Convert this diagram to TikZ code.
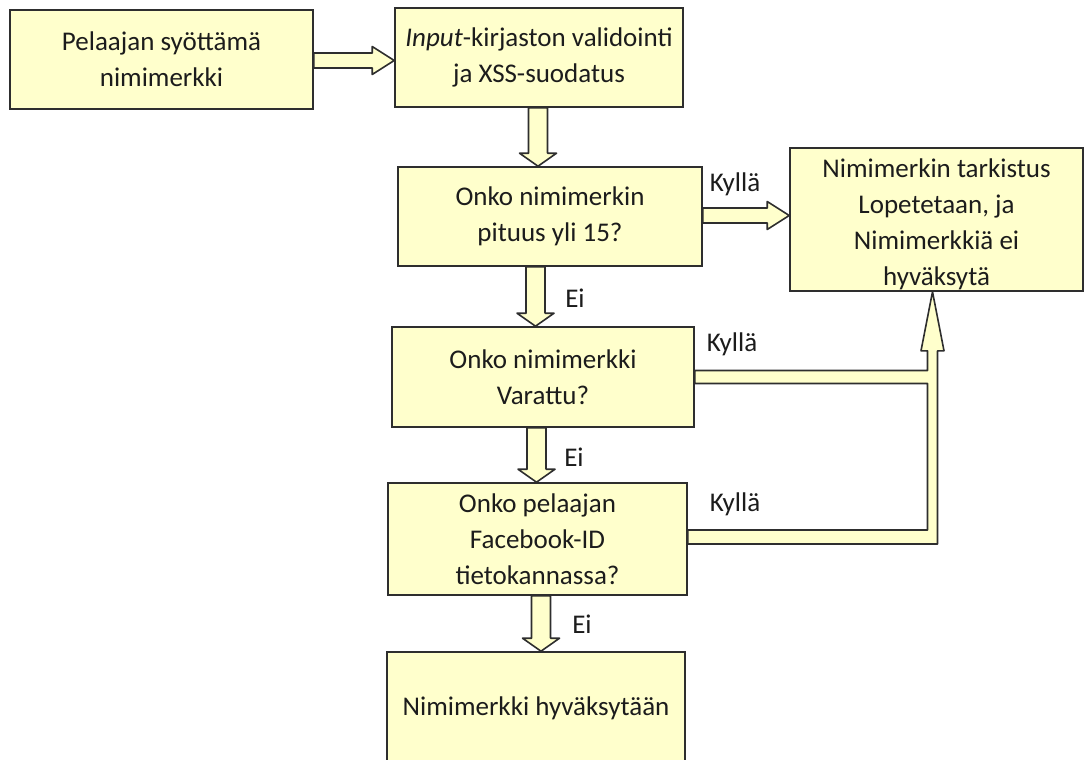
\documentclass[tikz,border=0pt]{standalone}
\usepackage{fontspec}
\setmainfont{Carlito}
\usepackage{xcolor}
\usepackage{tikz}
\usetikzlibrary{calc}

\definecolor{boxfill}{HTML}{FFFFCC}
\definecolor{boxline}{HTML}{2E2E2E}
\definecolor{textcol}{HTML}{1C1C1C}

\tikzset{
  box/.style={draw=boxline, fill=boxfill, line width=1.6pt, inner sep=0pt,
    align=center, text=textcol, font=\fontsize{27}{36}\selectfont},
  blockarrow/.style={draw=boxline, fill=boxfill, line width=1.6pt, line join=round},
  answer/.style={text=textcol, font=\fontsize{27}{36}\selectfont, inner sep=0pt}
}

\newcommand{\arrowdown}[3]{%
  \draw[blockarrow] let \p1=(#3,0), \p2=(#1.south), \p3=(#2.north) in
    (\x1-9.5pt,\y2) -- (\x1-9.5pt,\y3+13pt) -- (\x1-18.5pt,\y3+13pt) -- (\x1,\y3)
    -- (\x1+18.5pt,\y3+13pt) -- (\x1+9.5pt,\y3+13pt) -- (\x1+9.5pt,\y2) -- cycle;}

\newcommand{\arrowright}[3]{%
  \draw[blockarrow] let \p1=(0,#3), \p2=(#1.east), \p3=(#2.west) in
    (\x2,\y1+7.5pt) -- (\x3-22pt,\y1+7.5pt) -- (\x3-22pt,\y1+14pt) -- (\x3,\y1)
    -- (\x3-22pt,\y1-14pt) -- (\x3-22pt,\y1-7.5pt) -- (\x2,\y1-7.5pt) -- cycle;}

\begin{document}
\begin{tikzpicture}[x=1pt, y=-1pt]
\clip (0,0) rectangle (1090,760);
\fill[white] (0,0) rectangle (1090,760);

\node[box, minimum width=303pt, minimum height=99pt] (b1) at (161.5, 59.5) {Pelaajan syöttämä\\nimimerkki};
\node[box, minimum width=288pt, minimum height=99pt] (b2) at (539, 57.5) {\textit{Input}-kirjaston validointi\\ja XSS-suodatus};
\node[box, minimum width=304pt, minimum height=99pt] (b3) at (550, 216.5) {Onko nimimerkin\\pituus yli 15?};
\node[box, minimum width=293pt, minimum height=143pt] (r) at (936.5, 219.5) {\rule{0pt}{29pt}Nimimerkin tarkistus\\Lopetetaan, ja\\Nimimerkkiä ei\\hyväksytä};
\node[box, minimum width=302pt, minimum height=100pt] (b4) at (543, 377) {Onko nimimerkki\\Varattu?};
\node[box, minimum width=299pt, minimum height=112pt] (b5) at (537.5, 539) {Onko pelaajan\\Facebook-ID\\tietokannassa?};
\node[box, minimum width=298pt, minimum height=112pt] (b6) at (536, 708) {Nimimerkki hyväksytään};

\arrowright{b1}{b2}{60.5}
\arrowdown{b2}{b3}{538}
\arrowright{b3}{r}{215.5}
\arrowdown{b3}{b4}{535.5}
\arrowdown{b4}{b5}{536.5}
\arrowdown{b5}{b6}{541}

\draw[blockarrow] let \p1=(b4.east), \p2=(b5.east), \p3=(r.south) in
  (\x1,\y1+6.5pt) -- (\x3-9pt,\y1+6.5pt) -- (\x3-9pt,\y3-59pt) -- (\x3-15.5pt,\y3-59pt)
  -- (\x3-4pt,\y3) -- (\x3+7.5pt,\y3-59pt) -- (\x3+1pt,\y3-59pt) -- (\x3+1pt,\y2-5pt)
  -- (\x2,\y2-5pt) -- (\x2,\y2+9pt) -- (\x3-9pt,\y2+9pt) -- (\x3-9pt,\y1-6.5pt)
  -- (\x1,\y1-6.5pt) -- cycle;

\node[answer] (k1) at (735, 184) {Kyllä};
\node[answer] (k2) at (732, 344) {Kyllä};
\node[answer] (k3) at (735, 504) {Kyllä};
\node[answer] (e1) at (575, 298) {Ei};
\node[answer] (e2) at (574, 457) {Ei};
\node[answer] (e3) at (582, 624) {Ei};
\end{tikzpicture}
\end{document}
